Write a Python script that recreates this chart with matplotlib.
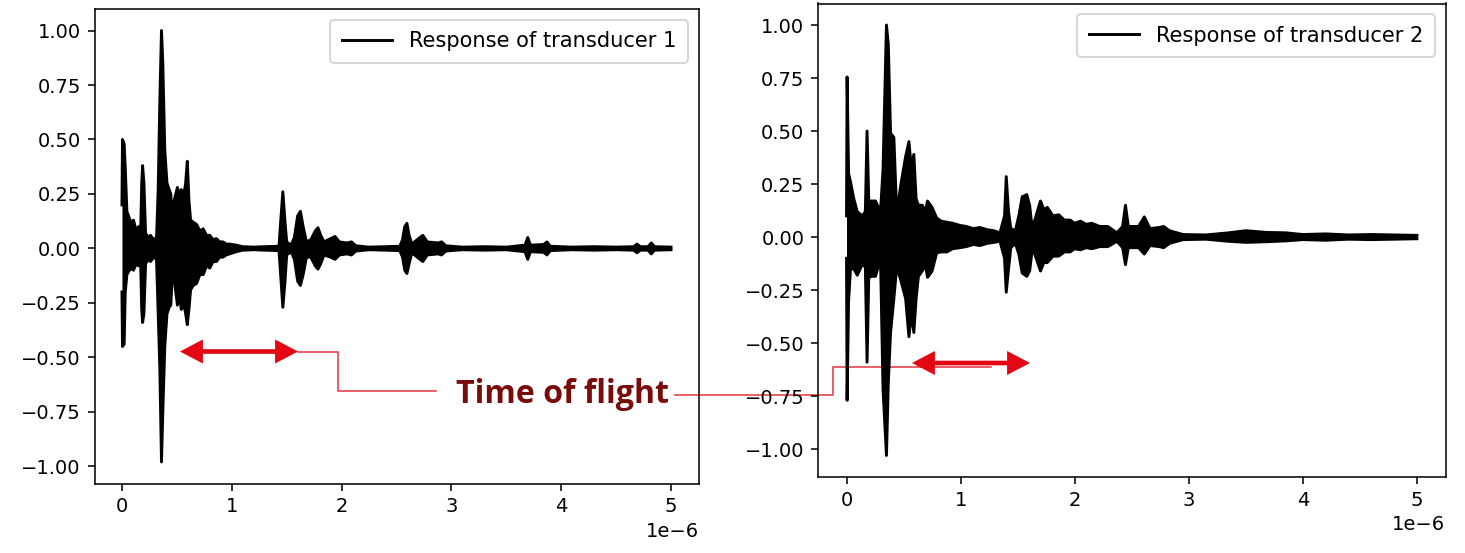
import matplotlib
matplotlib.use("Agg")
import matplotlib.pyplot as plt
from matplotlib.lines import Line2D
import numpy as np

# ---------------- data (envelope of each waveform, time in microseconds) ----------------
t1 = [0.000, 0.005, 0.020, 0.030, 0.045, 0.080, 0.105, 0.130, 0.150, 0.170,
      0.180, 0.188, 0.200, 0.215, 0.240, 0.260, 0.290, 0.315, 0.330, 0.345,
      0.360, 0.372, 0.390, 0.410, 0.430, 0.445, 0.460, 0.475, 0.505, 0.525,
      0.540, 0.565, 0.580, 0.595, 0.610, 0.625, 0.650, 0.680, 0.710, 0.740,
      0.770, 0.800, 0.830, 0.860, 0.890, 0.920, 0.950, 0.980, 1.040, 1.100,
      1.200, 1.300, 1.430, 1.445, 1.465, 1.485, 1.500, 1.540, 1.570, 1.600,
      1.625, 1.650, 1.680, 1.720, 1.760, 1.785, 1.810, 1.840, 1.900, 1.940,
      1.980, 2.050, 2.090, 2.130, 2.250, 2.400, 2.530, 2.555, 2.575, 2.595,
      2.615, 2.640, 2.700, 2.740, 2.780, 2.880, 2.910, 2.950, 3.100, 3.300,
      3.500, 3.670, 3.695, 3.720, 3.840, 3.870, 3.900, 4.100, 4.300, 4.500,
      4.660, 4.690, 4.720, 4.790, 4.820, 4.850, 5.000]
upper1 = [0.20, 0.50, 0.48, 0.37, 0.17, 0.12, 0.13, 0.08, 0.10, 0.07,
          0.30, 0.38, 0.30, 0.07, 0.05, 0.06, 0.04, 0.05, 0.27, 0.68,
          1.00, 0.85, 0.45, 0.30, 0.27, 0.25, 0.08, 0.22, 0.28, 0.24,
          0.27, 0.25, 0.30, 0.40, 0.22, 0.13, 0.12, 0.11, 0.08, 0.09,
          0.06, 0.06, 0.04, 0.045, 0.03, 0.03, 0.02, 0.02, 0.015, 0.008,
          0.006, 0.008, 0.01, 0.12, 0.26, 0.12, 0.03, 0.015, 0.05, 0.15,
          0.17, 0.10, 0.03, 0.04, 0.08, 0.095, 0.06, 0.03, 0.045, 0.055,
          0.03, 0.025, 0.03, 0.012, 0.006, 0.008, 0.01, 0.04, 0.10, 0.115,
          0.06, 0.02, 0.045, 0.06, 0.03, 0.025, 0.03, 0.012, 0.006, 0.008,
          0.006, 0.015, 0.05, 0.015, 0.018, 0.03, 0.01, 0.006, 0.008, 0.006,
          0.008, 0.02, 0.008, 0.008, 0.025, 0.008, 0.006]
lower1 = [-0.20, -0.45, -0.44, -0.20, -0.12, -0.09, -0.10, -0.07, -0.08, -0.06,
          -0.28, -0.34, -0.30, -0.07, -0.05, -0.06, -0.04, -0.05, -0.30, -0.55,
          -0.98, -0.75, -0.45, -0.30, -0.27, -0.26, -0.10, -0.14, -0.26, -0.22,
          -0.28, -0.26, -0.30, -0.35, -0.28, -0.19, -0.17, -0.16, -0.12, -0.12,
          -0.08, -0.09, -0.06, -0.06, -0.04, -0.04, -0.03, -0.025, -0.015, -0.008,
          -0.006, -0.008, -0.01, -0.12, -0.27, -0.15, -0.03, -0.015, -0.05, -0.15,
          -0.17, -0.12, -0.04, -0.04, -0.08, -0.095, -0.07, -0.03, -0.04, -0.05,
          -0.03, -0.025, -0.03, -0.012, -0.006, -0.008, -0.01, -0.04, -0.10, -0.115,
          -0.07, -0.02, -0.045, -0.06, -0.03, -0.025, -0.03, -0.012, -0.006, -0.008,
          -0.006, -0.015, -0.05, -0.015, -0.018, -0.03, -0.01, -0.006, -0.008, -0.006,
          -0.008, -0.02, -0.008, -0.008, -0.025, -0.008, -0.006]

t2 = [0.000, 0.005, 0.018, 0.035, 0.064, 0.094, 0.137, 0.165, 0.180, 0.195,
      0.225, 0.254, 0.298, 0.320, 0.350, 0.366, 0.386, 0.415, 0.440, 0.474,
      0.518, 0.547, 0.567, 0.590, 0.610, 0.630, 0.664, 0.690, 0.710, 0.750,
      0.790, 0.830, 0.880, 0.930, 0.995, 1.050, 1.110, 1.170, 1.230, 1.290,
      1.345, 1.385, 1.400, 1.420, 1.440, 1.480, 1.510, 1.540, 1.580, 1.605,
      1.625, 1.650, 1.700, 1.730, 1.760, 1.810, 1.860, 1.910, 1.960, 2.000,
      2.050, 2.100, 2.150, 2.220, 2.290, 2.370, 2.420, 2.445, 2.470, 2.560,
      2.610, 2.660, 2.740, 2.780, 2.830, 2.950, 3.150, 3.350, 3.500, 3.680,
      3.850, 4.000, 4.200, 4.400, 4.600, 4.800, 5.000]
upper2 = [0.10, 0.755, 0.30, 0.26, 0.18, 0.12, 0.10, 0.12, 0.50, 0.17,
          0.17, 0.17, 0.12, 0.32, 1.00, 0.91, 0.49, 0.47, 0.11, 0.24,
          0.38, 0.45, 0.33, 0.39, 0.18, 0.15, 0.15, 0.12, 0.17, 0.14,
          0.09, 0.075, 0.07, 0.065, 0.055, 0.05, 0.04, 0.045, 0.035, 0.03,
          0.02, 0.10, 0.285, 0.12, 0.04, 0.03, 0.10, 0.19, 0.20, 0.15,
          0.05, 0.08, 0.17, 0.13, 0.14, 0.10, 0.105, 0.08, 0.08, 0.065,
          0.075, 0.06, 0.065, 0.05, 0.05, 0.02, 0.05, 0.15, 0.05, 0.05,
          0.095, 0.04, 0.045, 0.05, 0.03, 0.012, 0.01, 0.02, 0.03, 0.022,
          0.02, 0.012, 0.015, 0.01, 0.012, 0.01, 0.008]
lower2 = [-0.10, -0.77, -0.30, -0.15, -0.15, -0.18, -0.13, -0.14, -0.59, -0.19,
          -0.185, -0.185, -0.10, -0.72, -1.03, -0.69, -0.45, -0.29, -0.14, -0.20,
          -0.29, -0.47, -0.36, -0.45, -0.29, -0.185, -0.16, -0.13, -0.19, -0.16,
          -0.075, -0.07, -0.07, -0.055, -0.05, -0.045, -0.035, -0.04, -0.03, -0.025,
          -0.02, -0.10, -0.26, -0.15, -0.05, -0.03, -0.08, -0.17, -0.185, -0.16,
          -0.07, -0.08, -0.16, -0.12, -0.12, -0.09, -0.09, -0.07, -0.07, -0.055,
          -0.06, -0.05, -0.055, -0.045, -0.045, -0.02, -0.05, -0.13, -0.05, -0.05,
          -0.08, -0.04, -0.045, -0.05, -0.03, -0.012, -0.01, -0.02, -0.025, -0.022,
          -0.018, -0.012, -0.015, -0.01, -0.012, -0.01, -0.008]

labels = ["Response of transducer 1", "Response of transducer 2"]
annotation_text = "Time of flight"

# ---------------- figure ----------------
W, H, DPI = 1465, 553, 140
fig = plt.figure(figsize=(W / DPI, H / DPI), dpi=DPI)


def fx(x):
    return x / W


def fy(y):
    return 1 - y / H


ax1 = fig.add_axes([fx(94.5), fy(483.5), (698.5 - 94.5) / W, (483.5 - 9) / H])
ax2 = fig.add_axes([fx(818), fy(477), (1445.5 - 818) / W, (477 - 3.5) / H])

for ax, t, up, lo, lab in [(ax1, t1, upper1, lower1, labels[0]),
                           (ax2, t2, upper2, lower2, labels[1])]:
    ts = np.asarray(t) * 1e-6
    ax.fill_between(ts, lo, up, color="black", linewidth=0)
    ax.plot(ts, up, color="black", lw=1.5, label=lab)
    ax.plot(ts, lo, color="black", lw=1.5)
    ax.legend(loc="upper right", fontsize=10.8, borderpad=0.55,
              handlelength=2.4)
    ax.patch.set_visible(False)

# ---------------- annotation ----------------
red = "#e30613"
thin = "#e5353f"
dark = "#7a0b0b"

arrow_style = "<|-|>,head_length=0.8,head_width=0.42"
for ax, (x0, x1, y) in [(ax1, (180, 298, 351.5)), (ax2, (912, 1030, 363))]:
    ax.annotate("", xy=(fx(x1), fy(y)), xytext=(fx(x0), fy(y)),
                xycoords="figure fraction", textcoords="figure fraction",
                arrowprops=dict(arrowstyle=arrow_style, color=red, lw=2.4,
                                joinstyle="miter", capstyle="butt",
                                shrinkA=0, shrinkB=0, clip_on=False),
                annotation_clip=False)

path_left = [(298, 351.5), (338, 351.5), (338, 390.5), (436, 390.5)]
path_right = [(675, 395), (833, 395), (833, 366.5), (991, 366.5)]
for p in (path_left, path_right):
    fig.add_artist(Line2D([fx(a) for a, b in p], [fy(b) for a, b in p],
                          transform=fig.transFigure, color=thin, lw=0.8,
                          zorder=-1))

fig.text(fx(456), fy(403), annotation_text, color=dark,
         fontsize=16.5, fontweight="bold", family=["Open Sans", "DejaVu Sans"],
         ha="left", va="baseline")

fig.savefig("out.png", dpi=DPI)
